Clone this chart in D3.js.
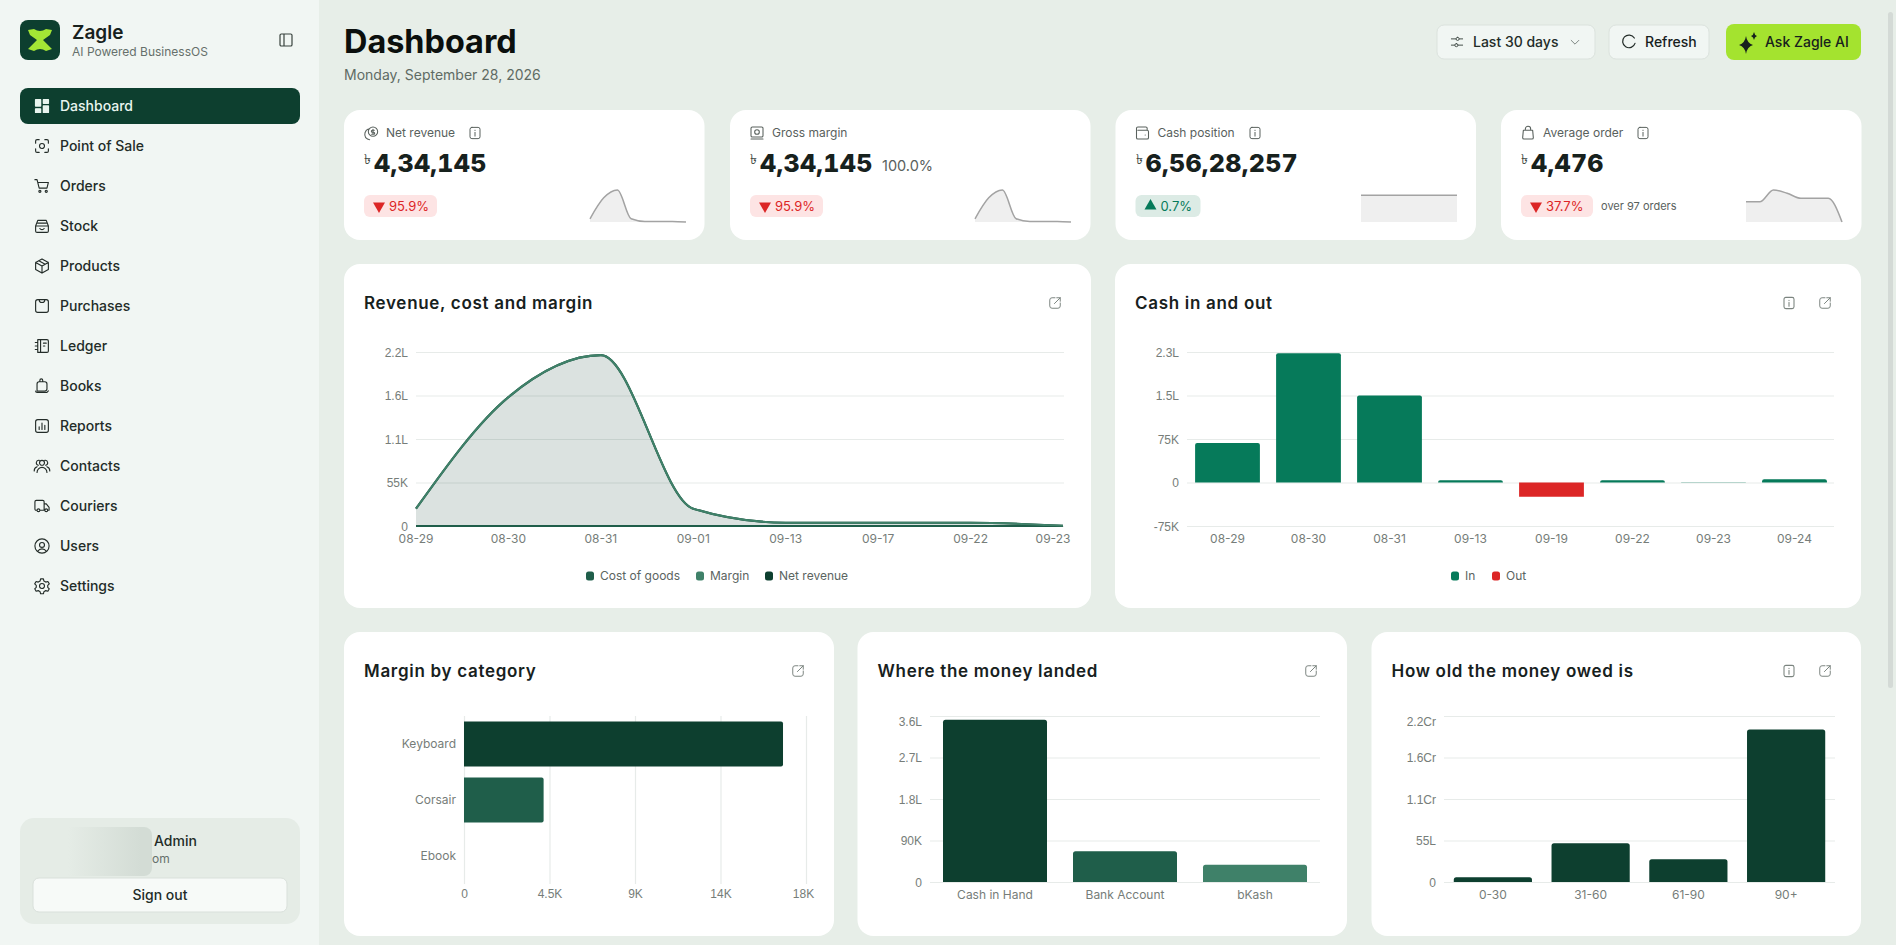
<!DOCTYPE html>
<html>
<head>
<meta charset="utf-8">
<title>Dashboard</title>
<script src="https://cdn.jsdelivr.net/npm/d3@7"></script>
<style>
    html, body { margin: 0; padding: 0; overflow: hidden; background: #e7eee8; }
    svg { display: block; font-family: Inter, "Noto Sans", sans-serif; }
    .axis-label { font-size: 12px; fill: #767d79; }
    .grid line { stroke: #e7ebe9; stroke-width: 1.2; }
    .grid path { display: none; }
    .card-title { font-size: 17px; font-weight: 600; fill: #17211d; letter-spacing: 0.7px; }
    .kpi-label { font-size: 12px; fill: #59615d; }
    .kpi-value { font-size: 25px; font-weight: 800; fill: #17211d; letter-spacing: 0.3px; font-variant-numeric: tabular-nums; }
</style>
</head>
<body>
<svg id="page" width="1896" height="945"></svg>
<script>
// sidebar
const navItems = ['Dashboard', 'Point of Sale', 'Orders', 'Stock', 'Products', 'Purchases', 'Ledger', 'Books', 'Reports', 'Contacts', 'Couriers', 'Users', 'Settings'];

// kpi cards
const kpiLabels = ['Net revenue', 'Gross margin', 'Cash position', 'Average order'];
const kpiValues = ['4,34,145', '4,34,145', '6,56,28,257', '4,476'];
const kpiChanges = ['95.9%', '95.9%', '0.7%', '37.7%'];
const kpiUp = [false, false, true, false];

// sparklines
const sparkRevenue = [21900, 163000, 216000, 21900, 4200, 4200, 4200, 300];
const sparkCash = [6.55e7, 6.55e7, 6.55e7, 6.55e7, 6.55e7, 6.55e7, 6.55e7, 6.55e7];
const sparkOrder = [4500, 4500, 7150, 6430, 5300, 5300, 5300, 0];

// revenue, cost and margin
const revDates = ['08-29', '08-30', '08-31', '09-01', '09-13', '09-17', '09-22', '09-23'];
const netRevenue = [21900, 163000, 216000, 21900, 4200, 4200, 4200, 300];
const grossMargin = [21900, 163000, 216000, 21900, 4200, 4200, 4200, 300];
const costOfGoods = [0, 0, 0, 0, 0, 0, 0, 0];
const revTicks = [0, 55000, 110000, 165000, 220000];
const revTickLabels = ['0', '55K', '1.1L', '1.6L', '2.2L'];

// cash in and out
const cashDates = ['08-29', '08-30', '08-31', '09-13', '09-19', '09-22', '09-23', '09-24'];
const cashValues = [68300, 222800, 149900, 4000, -24700, 4000, 300, 5700];
const cashTicks = [-75000, 0, 75000, 150000, 225000];
const cashTickLabels = ['-75K', '0', '75K', '1.5L', '2.3L'];

// margin by category
const categories = ['Keyboard', 'Corsair', 'Ebook'];
const categoryMargin = [16790, 4190, 0];
const categoryTicks = [0, 4500, 9000, 13500, 18000];
const categoryTickLabels = ['0', '4.5K', '9K', '14K', '18K'];

// where the money landed
const accounts = ['Cash in Hand', 'Bank Account', 'bKash'];
const accountValues = [352000, 66500, 37600];
const accountTicks = [0, 90000, 180000, 270000, 360000];
const accountTickLabels = ['0', '90K', '1.8L', '2.7L', '3.6L'];

// how old the money owed is
const ageBuckets = ['0-30', '31-60', '61-90', '90+'];
const ageValues = [620000, 5120000, 3000000, 20200000];
const ageTicks = [0, 5500000, 11000000, 16500000, 22000000];
const ageTickLabels = ['0', '55L', '1.1Cr', '1.6Cr', '2.2Cr'];

const dark = '#0d3f2f', mid = '#1f5e4a', light = '#3f8169';
const cashIn = '#067a5a', cashOut = '#dc2626';

let svg = d3.select('#page');

// icons are lucide style strokes on a 24 unit grid
const iconPaths = {
    'Dashboard': 'M3 3h7v9H3zM14 3h7v5h-7zM14 12h7v9h-7zM3 16h7v5H3z',
    'Point of Sale': 'M3 8V5a2 2 0 0 1 2-2h3M16 3h3a2 2 0 0 1 2 2v3M21 16v3a2 2 0 0 1-2 2h-3M8 21H5a2 2 0 0 1-2-2v-3M12 8.5a3.5 3.5 0 1 0 0 7 3.5 3.5 0 0 0 0-7z',
    'Orders': 'M2 3h3l3 12h11l2-8H6M9 21a1.5 1.5 0 1 0 0-3 1.5 1.5 0 0 0 0 3zM18 21a1.5 1.5 0 1 0 0-3 1.5 1.5 0 0 0 0 3z',
    'Stock': 'M3 12l3-8h12l3 8v7a2 2 0 0 1-2 2H5a2 2 0 0 1-2-2zM3 12h18M6 8h12M9 15.5a3.5 3.5 0 0 0 6 0',
    'Products': 'M12 2l9 5v10l-9 5-9-5V7zM3 7l9 5 9-5M12 12v10M7.5 4.5l9 5',
    'Purchases': 'M6 3h12a3 3 0 0 1 3 3v12a3 3 0 0 1-3 3H6a3 3 0 0 1-3-3V6a3 3 0 0 1 3-3zM8 3a4 4 0 0 0 8 0',
    'Ledger': 'M6 3h13a2 2 0 0 1 2 2v14a2 2 0 0 1-2 2H6zM10 3v18M2.5 7H6M2.5 12H6M2.5 17H6M14 8h4M14 12h2',
    'Books': 'M5 19V9a3 3 0 0 1 3-3h8a3 3 0 0 1 3 3v7a3 3 0 0 1-3 3zM9 6V4a2 2 0 0 1 4 0v2M3 19a2 2 0 0 0 2 2h14l2-2',
    'Reports': 'M6 3h12a3 3 0 0 1 3 3v12a3 3 0 0 1-3 3H6a3 3 0 0 1-3-3V6a3 3 0 0 1 3-3zM8 17v-4M12 17V8M16 17v-6',
    'Contacts': 'M12 4a3.5 3.5 0 1 0 0 7 3.5 3.5 0 0 0 0-7zM5 21a7 7 0 0 1 14 0M7 11a3.5 3.5 0 1 1 1-7M17 11a3.5 3.5 0 1 0-1-7M1 19a6 6 0 0 1 4-6M23 19a6 6 0 0 0-4-6',
    'Couriers': 'M5 18H3a2 2 0 0 1-1-2V6a2 2 0 0 1 2-2h9a2 2 0 0 1 2 2v12H9M15 9h3l4 5v4h-2M7 20a2 2 0 1 0 0-4 2 2 0 0 0 0 4zM18 20a2 2 0 1 0 0-4 2 2 0 0 0 0 4z',
    'Users': 'M12 2a10 10 0 1 0 0 20 10 10 0 0 0 0-20zM12 7a3.5 3.5 0 1 0 0 7 3.5 3.5 0 0 0 0-7zM6 19.5a7 7 0 0 1 12 0',
    'Settings': 'M12 8.5a3.5 3.5 0 1 0 0 7 3.5 3.5 0 0 0 0-7zM10 2h4l.7 3 2.6 1.5 3-.9 2 3.4-2.2 2.1v2.8l2.2 2.1-2 3.4-3-.9-2.6 1.5-.7 3h-4l-.7-3-2.6-1.5-3 .9-2-3.4 2.2-2.1v-2.8L1.700 9l2-3.4 3 .9L9.300 5z',
    'info': 'M7 3h10a3 3 0 0 1 3 3v12a3 3 0 0 1-3 3H7a3 3 0 0 1-3-3V6a3 3 0 0 1 3-3zM12 11v6M12 7.500v.5',
    'open': 'M12 3H7a4 4 0 0 0-4 4v10a4 4 0 0 0 4 4h10a4 4 0 0 0 4-4v-5M11 13L21 3M15 3h6v6',
    'coin': 'M15 3a7 7 0 1 0 0 14 7 7 0 0 0 0-14zM15 6.500v7M17 8h-3a1.500 1.500 0 0 0 0 3h2a1.500 1.500 0 0 1 0 3h-3M8 6a9 9 0 0 0-4 13 9 9 0 0 0 6 3',
    'bill': 'M5 3h14a2 2 0 0 1 2 2v11a2 2 0 0 1-2 2H5a2 2 0 0 1-2-2V5a2 2 0 0 1 2-2zM12 7a3.500 3.500 0 1 0 0 7 3.500 3.500 0 0 0 0-7zM3 21h18',
    'wallet': 'M5 3h12a2 2 0 0 1 2 2v3M5 3a2 2 0 0 0-2 2v14a2 2 0 0 0 2 2h14a2 2 0 0 0 2-2V10a2 2 0 0 0-2-2H5M16 15h.1',
    'bag': 'M5 8h14l1 11a2 2 0 0 1-2 2H6a2 2 0 0 1-2-2zM8 8V6a4 4 0 0 1 8 0v2',
    'sliders': 'M3 7h7M16 7h5M3 17h5M14 17h7M13 4.500a2.500 2.500 0 1 0 0 5 2.500 2.500 0 0 0 0-5zM11 14.500a2.500 2.500 0 1 0 0 5 2.500 2.500 0 0 0 0-5z',
    'chevron': 'M5 9l7 7 7-7',
    'refresh': 'M20 6a9.500 9.500 0 1 0 1 8',
    'panel': 'M5 3h14a2 2 0 0 1 2 2v14a2 2 0 0 1-2 2H5a2 2 0 0 1-2-2V5a2 2 0 0 1 2-2zM9 3v18'
};

function icon(name, x, y, size, color, width, filled) {
    svg.append('path')
        .attr('d', iconPaths[name])
        .attr('transform', `translate(${x - size / 2}, ${y - size / 2}) scale(${size / 24})`)
        .attr('fill', filled ? color : 'none')
        .attr('stroke', color)
        .attr('stroke-width', width || 1.8)
        .attr('stroke-linecap', 'round')
        .attr('stroke-linejoin', 'round');
}

function label(x, y, text, size, color, weight, anchor) {
    return svg.append('text')
        .attr('x', x)
        .attr('y', y)
        .attr('dy', '0.35em')
        .attr('text-anchor', anchor || 'start')
        .style('font-size', size + 'px')
        .style('font-weight', weight || 400)
        .style('fill', color)
        .text(text);
}

// card with the rounded white background
function card(x, y, w, h) {
    svg.append('rect')
        .attr('x', x).attr('y', y)
        .attr('width', w).attr('height', h)
        .attr('rx', 16)
        .attr('fill', '#ffffff');
}

// bar with the top corners rounded, used for columns
function columnPath(x, y, w, h, r) {
    let rr = Math.min(r, h);
    return `M${x},${y + h}V${y + rr}Q${x},${y} ${x + rr},${y}H${x + w - rr}Q${x + w},${y} ${x + w},${y + rr}V${y + h}Z`;
}

function drawBackground() {
    svg.append('rect').attr('width', 1896).attr('height', 945).attr('fill', '#e7eee8');
    svg.append('rect').attr('width', 319).attr('height', 945).attr('fill', '#f1f6f3');
    // scrollbar thumb
    svg.append('rect').attr('x', 1888).attr('y', 12).attr('width', 5).attr('height', 676).attr('rx', 2.5).attr('fill', '#d4dad6');
}

function drawSidebar() {
    svg.append('rect').attr('x', 20).attr('y', 20).attr('width', 40).attr('height', 40).attr('rx', 8).attr('fill', dark);
    svg.append('path')
        .attr('d', 'M8 10L14 9Q20 13 26 9L32 10L30 15L23 20L32 29L26 31Q20 27 14 31L8 29L17 20L10 15Z')
        .attr('transform', 'translate(20, 20)')
        .attr('fill', '#a3e635');
    label(72, 32, 'Zagle', 19, '#17211d', 600);
    label(72, 52, 'AI Powered BusinessOS', 12, '#66706b');
    icon('panel', 286, 40, 16, '#39433e');

    svg.append('rect').attr('x', 20).attr('y', 88).attr('width', 280).attr('height', 36).attr('rx', 8).attr('fill', dark);

    navItems.forEach(function(d, i) {
        let cy = 106 + i * 40;
        icon(d, 42, cy, 17, i === 0 ? '#e9f5ef' : '#232c28', i === 0 ? 2 : 1.6, i === 0);
        label(60, cy, d, 14, i === 0 ? '#e9f5ef' : '#232c28', 500);
    });

    // signed in user box, name is hidden behind a blur patch
    let patch = svg.append('defs').append('linearGradient').attr('id', 'patch');
    patch.append('stop').attr('offset', '0.25').attr('stop-color', '#e5ece6');
    patch.append('stop').attr('offset', '0.9').attr('stop-color', '#d3dcd5');
    svg.append('rect').attr('x', 20).attr('y', 818).attr('width', 280).attr('height', 106).attr('rx', 14).attr('fill', '#e5ece6');
    label(154, 841, 'Admin', 14, '#232c28', 500);
    label(152, 859, 'om', 12, '#66706b');
    svg.append('rect').attr('x', 40).attr('y', 827).attr('width', 112).attr('height', 49).attr('rx', 8).attr('fill', 'url(#patch)');
    svg.append('rect').attr('x', 33).attr('y', 878).attr('width', 254).attr('height', 34).attr('rx', 6)
        .attr('fill', '#f7faf8').attr('stroke', '#d9e0db');
    label(160, 895, 'Sign out', 14, '#232c28', 500, 'middle');
}

function drawHeader() {
    label(344, 42, 'Dashboard', 32.4, '#0b0f0d', 700);
    label(344, 75, 'Monday, September 28, 2026', 14, '#5f6b64');

    // filter and action buttons
    svg.append('rect').attr('x', 1437).attr('y', 25).attr('width', 158).attr('height', 34).attr('rx', 7).attr('fill', '#f1f6f3').attr('stroke', '#dbe2dd');
    icon('sliders', 1457, 42, 15, '#47514c', 1.6);
    label(1473, 42, 'Last 30 days', 14, '#232c28', 500);
    icon('chevron', 1575, 42, 13, '#7b847f', 1.8);

    svg.append('rect').attr('x', 1609).attr('y', 25).attr('width', 100).attr('height', 34).attr('rx', 7).attr('fill', '#f1f6f3').attr('stroke', '#dbe2dd');
    icon('refresh', 1629, 42, 16, '#232c28', 1.8);
    label(1645, 42, 'Refresh', 14, '#17211d', 500);

    svg.append('rect').attr('x', 1726).attr('y', 24).attr('width', 135).attr('height', 36).attr('rx', 8).attr('fill', '#a4e32f');
    svg.append('path')
        .attr('d', 'M9 5Q10 12 16 14Q10 16 9 23Q8 16 2 14Q8 12 9 5ZM17 1Q17.500 4 20 5Q17.500 6 17 9Q16.500 6 14 5Q16.500 4 17 1Z')
        .attr('transform', 'translate(1737, 31)')
        .attr('fill', '#17211d');
    label(1765, 42, 'Ask Zagle AI', 14, '#17211d', 500);
}

function drawSpark(values, x0, maxScale) {
    let x = d3.scalePoint().domain(d3.range(values.length)).range([x0, x0 + 96]);
    let y = d3.scaleLinear().domain([0, d3.max(values) * maxScale]).range([222, 190]);

    svg.append('path')
        .attr('d', d3.area().x((d, i) => x(i)).y0(222).y1(d => y(d)).curve(d3.curveMonotoneX)(values))
        .attr('fill', '#efefef');
    svg.append('path')
        .attr('d', d3.line().x((d, i) => x(i)).y(d => y(d)).curve(d3.curveMonotoneX)(values))
        .attr('fill', 'none')
        .attr('stroke', '#a3a3a3')
        .attr('stroke-width', 1.5);
}

function drawKpis() {
    let cardX = [344, 730, 1115.5, 1501];
    let kpiIcons = ['coin', 'bill', 'wallet', 'bag'];
    let infoX = [475, null, 1255, 1643];
    let sparkX = [590, 975, 1361, 1746];
    let sparks = [sparkRevenue, sparkRevenue, sparkCash, sparkOrder];
    let sparkScale = [1, 1, 1.2, 1];
    let badgeW = [73, 73, 65, 72];

    kpiLabels.forEach(function(d, i) {
        let x = cardX[i];
        card(x, 110, 360.5, 130);
        icon(kpiIcons[i], x + 27, 133, 16, '#59615d', 1.6);
        svg.append('text').attr('class', 'kpi-label').attr('x', x + 42).attr('y', 133).attr('dy', '0.35em').text(d);
        if (infoX[i]) icon('info', infoX[i], 133, 15, '#59615d', 1.6);

        // currency sign and value
        label(x + 20, 159, '\u09F3', 14, '#3b4540');
        svg.append('text').attr('class', 'kpi-value').attr('x', x + 30).attr('y', 172).text(kpiValues[i]);
        if (i === 1) label(x + 152, 166, '100.0%', 14.5, '#59615d');

        // change badge
        let up = kpiUp[i];
        svg.append('rect').attr('x', x + 20).attr('y', 195).attr('width', badgeW[i]).attr('height', 22).attr('rx', 6)
            .attr('fill', up ? '#dcebe5' : '#fde4e4');
        svg.append('path')
            .attr('d', d3.symbol(d3.symbolTriangle, 62)())
            .attr('transform', `translate(${x + 35}, 206) ${up ? '' : 'rotate(180)'}`)
            .attr('fill', up ? cashIn : cashOut);
        label(x + 45, 206, kpiChanges[i], 13, up ? cashIn : cashOut, 400);
        if (i === 3) label(x + 100, 206, 'over 97 orders', 11, '#59615d');

        drawSpark(sparks[i], sparkX[i], sparkScale[i]);
    });
}

// common part of the chart cards
function chartCard(x, y, w, h, title, hasInfo) {
    card(x, y, w, h);
    svg.append('text').attr('class', 'card-title').attr('x', x + 20).attr('y', y + 39).attr('dy', '0.35em').text(title);
    icon('open', x + w - 36, y + 39, 14, '#7b847f', 1.7);
    if (hasInfo) icon('info', x + w - 72, y + 39, 15, '#7b847f', 1.7);
}

function yAxis(scale, ticks, labels, left, width) {
    let g = svg.append('g')
        .attr('class', 'grid')
        .attr('transform', `translate(${left}, 0)`)
        .call(d3.axisLeft(scale).tickValues(ticks).tickFormat((d, i) => labels[i]).tickSize(-width).tickPadding(8));
    g.selectAll('text').attr('class', 'axis-label').attr('x', -8).attr('dy', '0.36em');
    return g;
}

function bandLabels(scale, names, y) {
    svg.selectAll(null)
        .data(names)
        .enter()
        .append('text')
        .attr('class', 'axis-label')
        .attr('x', d => scale(d) + scale.bandwidth() / 2)
        .attr('y', y)
        .attr('dy', '0.35em')
        .attr('text-anchor', 'middle')
        .text(d => d);
}

function legend(items, y) {
    items.forEach(function(d) {
        svg.append('rect').attr('x', d.x).attr('y', y - 4.5).attr('width', 8).attr('height', 9).attr('rx', 2.5).attr('fill', d.color);
        label(d.x + 14, y, d.name, 12, '#5b645f');
    });
}

function drawRevenueChart() {
    chartCard(344, 264, 747, 344, 'Revenue, cost and margin', false);

    let x = d3.scalePoint().domain(revDates).range([416, 1063]);
    let y = d3.scaleLinear().domain([0, 220000]).range([526, 352]);

    yAxis(y, revTicks, revTickLabels, 416, 648);

    let area = d3.area().x((d, i) => x(revDates[i])).y0(y(0)).y1(d => y(d)).curve(d3.curveMonotoneX);
    let line = d3.line().x((d, i) => x(revDates[i])).y(d => y(d)).curve(d3.curveMonotoneX);

    // only net revenue carries the grey fill
    svg.append('path').attr('d', area(netRevenue)).attr('fill', dark).attr('fill-opacity', 0.15);

    // cost first, then net revenue, margin on top
    [[costOfGoods, mid], [netRevenue, dark], [grossMargin, light]].forEach(function(s) {
        svg.append('path').attr('d', line(s[0])).attr('fill', 'none').attr('stroke', s[1]).attr('stroke-width', 2.1);
    });

    revDates.forEach(function(d, i) {
        let tx = x(d);
        if (i === revDates.length - 1) tx -= 10; // last label is pulled inside the card
        label(tx, 539, d, 12, '#767d79', 400, 'middle');
    });

    legend([
        {name: 'Cost of goods', color: mid, x: 586},
        {name: 'Margin', color: light, x: 696},
        {name: 'Net revenue', color: dark, x: 765}
    ], 576);
}

function drawCashChart() {
    chartCard(1115, 264, 746, 344, 'Cash in and out', true);

    let x = d3.scaleBand().domain(cashDates).range([1187, 1835]).paddingInner(0.2).paddingOuter(0.1);
    let y = d3.scaleLinear().domain([-75000, 225000]).range([526, 352]);

    yAxis(y, cashTicks, cashTickLabels, 1187, 647);

    svg.selectAll(null)
        .data(cashDates)
        .enter()
        .append('path')
        .attr('d', function(d, i) {
            let v = cashValues[i];
            if (v < 0) return `M${x(d)},${y(0)}H${x(d) + x.bandwidth()}V${y(v)}H${x(d)}Z`;
            return columnPath(x(d), y(v), x.bandwidth(), y(0) - y(v), 2);
        })
        .attr('fill', (d, i) => cashValues[i] < 0 ? cashOut : cashIn);

    bandLabels(x, cashDates, 539);

    legend([
        {name: 'In', color: cashIn, x: 1451},
        {name: 'Out', color: cashOut, x: 1492}
    ], 576);
}

function drawCategoryChart() {
    chartCard(344, 632, 490, 304, 'Margin by category', false);

    let x = d3.scaleLinear().domain([0, 18000]).range([464, 806]);
    let y = d3.scaleBand().domain(categories).range([716, 884]).paddingInner(0.2).paddingOuter(0.1);
    let colors = [dark, mid, light];

    let g = svg.append('g')
        .attr('class', 'grid')
        .attr('transform', 'translate(0, 884)')
        .call(d3.axisBottom(x).tickValues(categoryTicks).tickFormat((d, i) => categoryTickLabels[i]).tickSize(-168).tickPadding(5));
    g.selectAll('text').attr('class', 'axis-label');
    g.selectAll('.tick:last-of-type text').attr('x', -3);

    svg.selectAll(null)
        .data(categories)
        .enter()
        .append('path')
        .attr('d', function(d, i) {
            let x1 = x(categoryMargin[i]), y0 = y(d), h = y.bandwidth();
            if (categoryMargin[i] === 0) return '';
            return `M${x(0)},${y0}H${x1 - 2}Q${x1},${y0} ${x1},${y0 + 2}V${y0 + h - 2}Q${x1},${y0 + h} ${x1 - 2},${y0 + h}H${x(0)}Z`;
        })
        .attr('fill', (d, i) => colors[i]);

    categories.forEach(function(d) {
        label(456, y(d) + y.bandwidth() / 2, d, 12, '#767d79', 400, 'end');
    });
}

function drawColumnChart(opts) {
    chartCard(opts.cardX, 632, 489.5, 304, opts.title, opts.hasInfo);

    let x = d3.scaleBand().domain(opts.names).range([opts.left, opts.right]).paddingInner(0.2).paddingOuter(0.1);
    let y = d3.scaleLinear().domain([0, opts.ticks[4]]).range([882, 716]);

    let g = yAxis(y, opts.ticks, opts.tickLabels, opts.left, opts.right - opts.left);
    // top label is pushed down into the card
    g.selectAll('.tick:last-of-type text').attr('y', 5);

    svg.selectAll(null)
        .data(opts.names)
        .enter()
        .append('path')
        .attr('d', (d, i) => columnPath(x(d), y(opts.values[i]), x.bandwidth(), y(0) - y(opts.values[i]), 2.5))
        .attr('fill', (d, i) => opts.colors[i]);

    bandLabels(x, opts.names, 895);
}

drawBackground();
drawSidebar();
drawHeader();
drawKpis();
drawRevenueChart();
drawCashChart();
drawCategoryChart();
drawColumnChart({
    cardX: 857.5, title: 'Where the money landed', hasInfo: false,
    names: accounts, values: accountValues, ticks: accountTicks, tickLabels: accountTickLabels,
    colors: [dark, mid, light], left: 930, right: 1320
});
drawColumnChart({
    cardX: 1371.5, title: 'How old the money owed is', hasInfo: true,
    names: ageBuckets, values: ageValues, ticks: ageTicks, tickLabels: ageTickLabels,
    colors: [dark, dark, dark, dark], left: 1444, right: 1835
});
</script>
</body>
</html>
